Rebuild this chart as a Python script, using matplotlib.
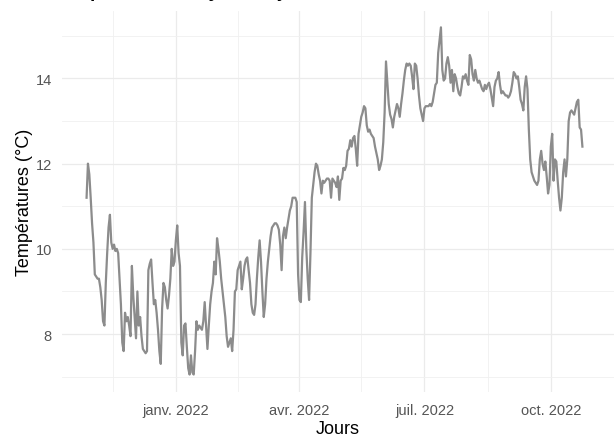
import pandas as pd
import matplotlib
matplotlib.use("Agg")
import matplotlib.pyplot as plt

plt.rcParams["font.family"] = ["Liberation Sans", "DejaVu Sans"]

# Daily mean temperatures (°C), starting 28 Oct 2021
start = "2021-10-28"
temps = [
    11.2, 12.0, 11.75, 11.2, 10.6, 10.15, 9.4, 9.35, 9.3, 9.3,
    9.1, 8.8, 8.3, 8.2, 9.2, 9.9, 10.5, 10.8, 10.15, 10.0,
    10.1, 9.95, 10.0, 9.9, 9.3, 8.7, 7.8, 7.6, 8.5, 8.3,
    8.4, 8.2, 7.95, 9.6, 8.9, 8.4, 7.9, 9.0, 8.2, 8.4,
    7.95, 7.65, 7.6, 7.55, 7.6, 9.5, 9.65, 9.75, 9.2, 8.7,
    8.8, 8.5, 8.1, 7.6, 7.3, 8.6, 9.2, 9.1, 8.8, 8.6,
    8.9, 9.3, 10.0, 9.6, 9.7, 10.2, 10.55, 9.9, 9.6, 7.8,
    7.5, 8.2, 8.25, 7.7, 7.2, 7.05, 7.5, 7.1, 7.05, 7.6,
    8.3, 8.1, 8.2, 8.15, 8.1, 8.3, 8.75, 8.2, 7.65, 8.2,
    8.7, 9.0, 9.2, 9.7, 9.4, 10.25, 10.0, 9.7, 9.3, 9.0,
    8.7, 8.4, 7.95, 7.7, 7.8, 7.9, 7.6, 8.1, 9.0, 9.05,
    9.5, 9.6, 9.7, 9.05, 9.3, 9.6, 9.75, 9.8, 9.5, 9.2,
    8.7, 8.5, 8.45, 8.7, 9.3, 9.8, 10.2, 9.7, 9.0, 8.4,
    8.7, 9.3, 9.7, 10.0, 10.3, 10.5, 10.55, 10.6, 10.6, 10.55,
    10.45, 10.1, 9.5, 10.3, 10.5, 10.25, 10.5, 10.7, 10.9, 11.0,
    11.2, 11.2, 11.2, 11.1, 9.4, 8.8, 8.75, 9.8, 10.4, 11.1,
    10.0, 9.3, 8.8, 9.9, 11.2, 11.5, 11.8, 12.0, 11.95, 11.75,
    11.6, 11.3, 11.6, 11.55, 11.6, 11.65, 11.65, 11.6, 11.2, 11.65,
    11.6, 11.55, 11.45, 11.7, 11.15, 11.6, 11.65, 11.9, 11.85, 11.95,
    12.3, 12.35, 12.55, 12.4, 12.6, 12.65, 12.35, 11.95, 12.7, 12.9,
    13.1, 13.2, 13.35, 13.3, 12.9, 12.75, 12.8, 12.7, 12.65, 12.6,
    12.4, 12.25, 12.1, 11.85, 11.95, 12.1, 12.5, 13.2, 14.4, 13.9,
    13.4, 13.15, 13.05, 12.85, 13.1, 13.25, 13.4, 13.3, 13.1, 13.4,
    13.65, 13.95, 14.2, 14.35, 14.3, 14.35, 14.3, 14.05, 13.75, 14.35,
    14.3, 14.0, 13.6, 13.3, 13.15, 13.0, 13.3, 13.35, 13.35, 13.35,
    13.4, 13.35, 13.45, 13.65, 13.85, 13.9, 14.6, 14.9, 15.2, 14.2,
    13.95, 14.0, 14.35, 14.5, 14.3, 13.9, 14.2, 13.7, 14.1, 14.0,
    13.8, 13.65, 13.6, 13.8, 14.05, 14.0, 14.1, 13.95, 13.85, 14.55,
    14.45, 14.1, 13.95, 14.2, 14.0, 13.9, 13.95, 13.85, 13.75, 13.7,
    13.85, 13.75, 13.85, 13.9, 13.75, 13.55, 13.35, 13.8, 13.95, 14.0,
    14.15, 13.85, 13.65, 13.7, 13.65, 13.6, 13.6, 13.55, 13.6, 13.7,
    13.9, 14.15, 14.1, 14.0, 14.05, 13.8, 13.5, 13.4, 13.25, 13.8,
    14.05, 13.75, 12.8, 12.1, 11.8, 11.7, 11.6, 11.55, 11.5, 11.6,
    12.1, 12.3, 12.0, 11.85, 12.05, 11.7, 11.3, 11.5, 12.4, 12.7,
    11.6, 12.1, 12.05, 11.6, 11.2, 10.9, 11.2, 11.8, 12.1, 11.7,
    12.1, 13.0, 13.2, 13.25, 13.2, 13.15, 13.3, 13.45, 13.5, 12.85,
    12.8, 12.4,
]
dates = pd.date_range(start, periods=len(temps), freq="D")

month_ticks = pd.to_datetime(["2022-01-01", "2022-04-01", "2022-07-01", "2022-10-01"])
month_labels = ["janv. 2022", "avr. 2022", "juil. 2022", "oct. 2022"]
minor_ticks = pd.to_datetime(["2021-11-16", "2022-02-15", "2022-05-16", "2022-08-16", "2022-11-16"])
y_major = [8, 10, 12, 14]
y_minor = [7, 9, 11, 13, 15]

fig = plt.figure(figsize=(6.14, 4.39), dpi=100)
ax = fig.add_axes([0.1005, 0.1048, 0.8995, 0.8685])

ax.plot(dates, temps, color="#8c8c8c", lw=1.6)

jan = pd.Timestamp("2022-01-01")
ax.set_xlim(jan - pd.Timedelta(days=83.1), jan + pd.Timedelta(days=305))
ax.set_ylim(6.64, 15.59)

ax.set_xticks(month_ticks)
ax.set_xticklabels(month_labels)
ax.set_xticks(minor_ticks, minor=True)
ax.set_yticks(y_major)
ax.set_yticks(y_minor, minor=True)

ax.grid(which="major", color="#ebebeb", lw=0.9)
ax.grid(which="minor", color="#f0f0f0", lw=0.6)
ax.set_axisbelow(True)
for s in ax.spines.values():
    s.set_visible(False)
ax.tick_params(which="both", length=0, labelsize=10.5, labelcolor="#555555")
ax.tick_params(axis="y", pad=7)
ax.tick_params(axis="x", pad=8)

ax.set_xlabel("Jours", fontsize=13, labelpad=2)
ax.set_ylabel("Températures (°C)", fontsize=13, labelpad=2)

# title sits mostly above the top edge, only its descenders show
fig.text(53 / 614, 1 + 3 / 439, "Températures moyennes journalières",
         fontsize=13.5, fontweight="bold", va="baseline", ha="left")

fig.savefig("out.png", dpi=100)
